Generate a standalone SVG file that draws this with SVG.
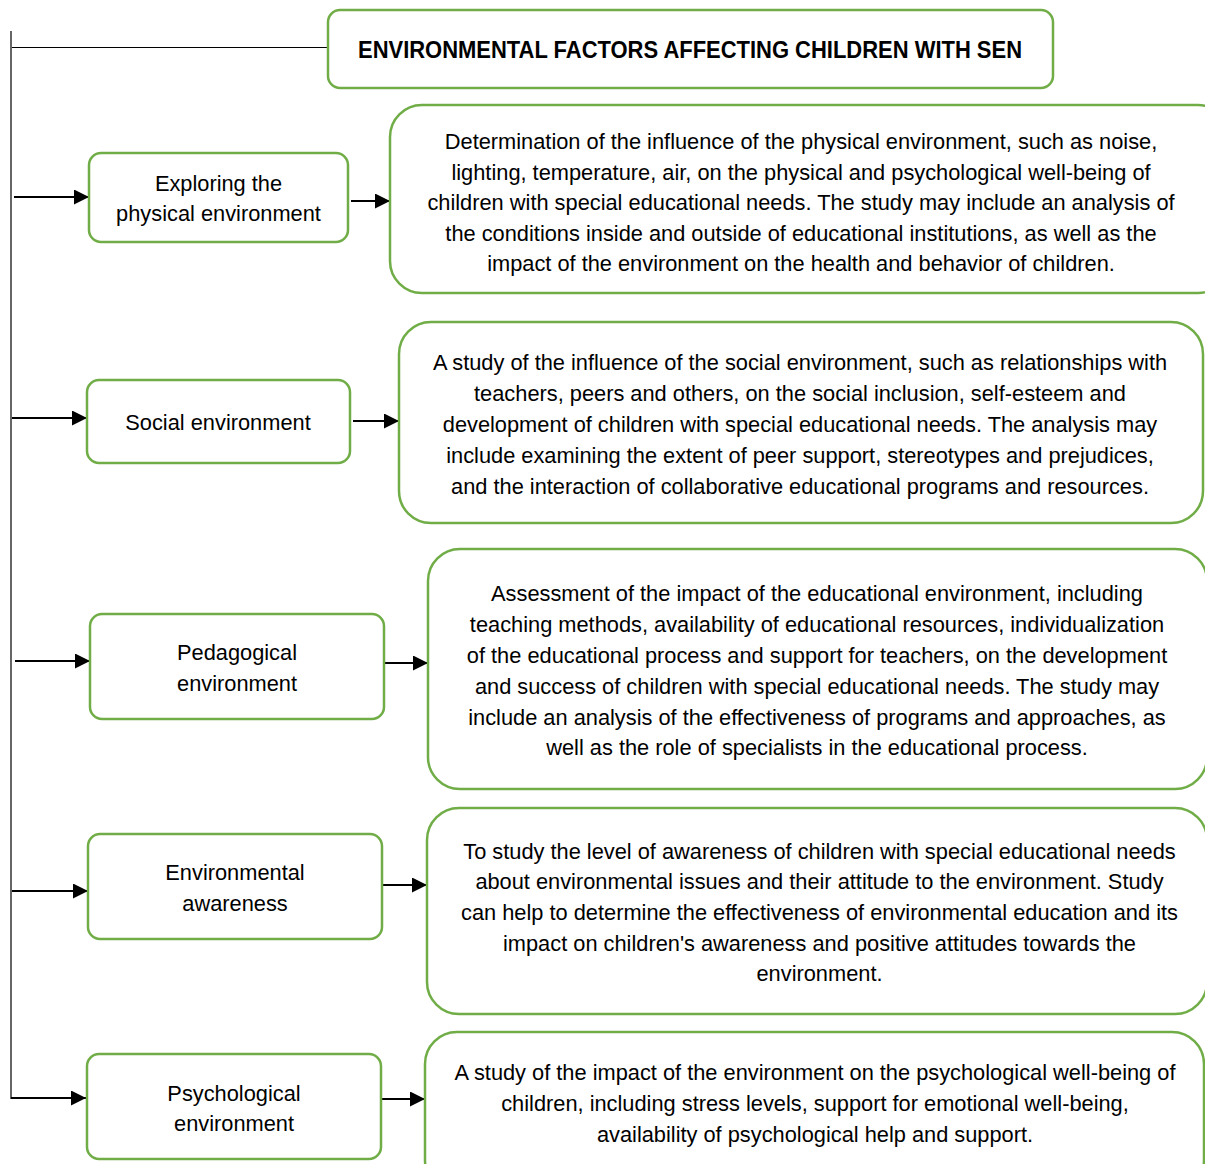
<svg xmlns="http://www.w3.org/2000/svg" width="1205" height="1164" viewBox="0 0 1205 1164">
<style>
.box{fill:#ffffff;stroke:#70ad47;stroke-width:2.5}
.t{font-family:"Liberation Sans",Arial,sans-serif;font-size:21.8px;fill:#000;text-anchor:middle}
.title{font-family:"Liberation Sans",Arial,sans-serif;font-size:24px;font-weight:bold;fill:#000;text-anchor:middle}
.arr{stroke:#000;stroke-width:2;fill:none;marker-end:url(#ah)}
</style>
<defs>
<marker id="ah" markerUnits="userSpaceOnUse" markerWidth="16" markerHeight="15" refX="15" refY="7.5" orient="auto">
<path d="M0,0 L15,7.5 L0,15 Z" fill="#000"/>
</marker>
</defs>
<rect width="1205" height="1164" fill="#ffffff"/>
<g id="connectors">
<line x1="11" y1="31" x2="11" y2="1099" stroke="#404040" stroke-width="1.6"/>
<line x1="12" y1="47.5" x2="328" y2="47.5" stroke="#000" stroke-width="1"/>
<line class="arr" x1="14" y1="197" x2="89" y2="197"/>
<line class="arr" x1="351" y1="201" x2="390" y2="201"/>
<line class="arr" x1="12" y1="418" x2="87" y2="418"/>
<line class="arr" x1="353" y1="421" x2="399" y2="421"/>
<line class="arr" x1="15" y1="661" x2="90" y2="661"/>
<line class="arr" x1="383" y1="663" x2="428" y2="663"/>
<line class="arr" x1="12" y1="891" x2="88" y2="891"/>
<line class="arr" x1="383" y1="885" x2="427" y2="885"/>
<line class="arr" x1="11" y1="1098" x2="86" y2="1098"/>
<line class="arr" x1="378" y1="1099" x2="425" y2="1099"/>
</g>
<g id="title">
<rect class="box" x="328" y="10" width="725" height="78" rx="12"/>
<text class="title" x="690" y="58" textLength="664" lengthAdjust="spacingAndGlyphs">ENVIRONMENTAL FACTORS AFFECTING CHILDREN WITH SEN</text>
</g>
<g id="node-physical">
<rect class="box" x="89" y="153" width="259" height="89" rx="12"/>
<text class="t" x="218.5" y="191">Exploring the</text>
<text class="t" x="218.5" y="221">physical environment</text>
</g>
<g id="desc-physical">
<rect class="box" x="390" y="105" width="840" height="188" rx="32"/>
<text class="t" x="801" y="149">Determination of the influence of the physical environment, such as noise,</text>
<text class="t" x="801" y="179.5">lighting, temperature, air, on the physical and psychological well-being of</text>
<text class="t" x="801" y="210">children with special educational needs. The study may include an analysis of</text>
<text class="t" x="801" y="240.5">the conditions inside and outside of educational institutions, as well as the</text>
<text class="t" x="801" y="271">impact of the environment on the health and behavior of children.</text>
</g>
<g id="node-social">
<rect class="box" x="87" y="380" width="263" height="83" rx="12"/>
<text class="t" x="218" y="430">Social environment</text>
</g>
<g id="desc-social">
<rect class="box" x="399" y="322" width="804" height="201" rx="32"/>
<text class="t" x="800" y="370">A study of the influence of the social environment, such as relationships with</text>
<text class="t" x="800" y="401">teachers, peers and others, on the social inclusion, self-esteem and</text>
<text class="t" x="800" y="432">development of children with special educational needs. The analysis may</text>
<text class="t" x="800" y="463">include examining the extent of peer support, stereotypes and prejudices,</text>
<text class="t" x="800" y="494">and the interaction of collaborative educational programs and resources.</text>
</g>
<g id="node-pedagogical">
<rect class="box" x="90" y="614" width="294" height="105" rx="12"/>
<text class="t" x="237" y="660">Pedagogical</text>
<text class="t" x="237" y="691">environment</text>
</g>
<g id="desc-pedagogical">
<rect class="box" x="428" y="549" width="779" height="240" rx="32"/>
<text class="t" x="817" y="601">Assessment of the impact of the educational environment, including</text>
<text class="t" x="817" y="632">teaching methods, availability of educational resources, individualization</text>
<text class="t" x="817" y="663">of the educational process and support for teachers, on the development</text>
<text class="t" x="817" y="694">and success of children with special educational needs. The study may</text>
<text class="t" x="817" y="725">include an analysis of the effectiveness of programs and approaches, as</text>
<text class="t" x="817" y="755">well as the role of specialists in the educational process.</text>
</g>
<g id="node-awareness">
<rect class="box" x="88" y="834" width="294" height="105" rx="12"/>
<text class="t" x="235" y="880">Environmental</text>
<text class="t" x="235" y="911">awareness</text>
</g>
<g id="desc-awareness">
<rect class="box" x="427" y="808" width="780" height="206" rx="32"/>
<text class="t" x="819.5" y="859">To study the level of awareness of children with special educational needs</text>
<text class="t" x="819.5" y="889">about environmental issues and their attitude to the environment. Study</text>
<text class="t" x="819.5" y="920">can help to determine the effectiveness of environmental education and its</text>
<text class="t" x="819.5" y="951">impact on children's awareness and positive attitudes towards the</text>
<text class="t" x="819.5" y="981">environment.</text>
</g>
<g id="node-psychological">
<rect class="box" x="87" y="1054" width="294" height="105" rx="12"/>
<text class="t" x="234" y="1101">Psychological</text>
<text class="t" x="234" y="1131">environment</text>
</g>
<g id="desc-psychological">
<rect class="box" x="425" y="1032" width="779" height="160" rx="32"/>
<text class="t" x="815" y="1080">A study of the impact of the environment on the psychological well-being of</text>
<text class="t" x="815" y="1111">children, including stress levels, support for emotional well-being,</text>
<text class="t" x="815" y="1142">availability of psychological help and support.</text>
</g>
</svg>
